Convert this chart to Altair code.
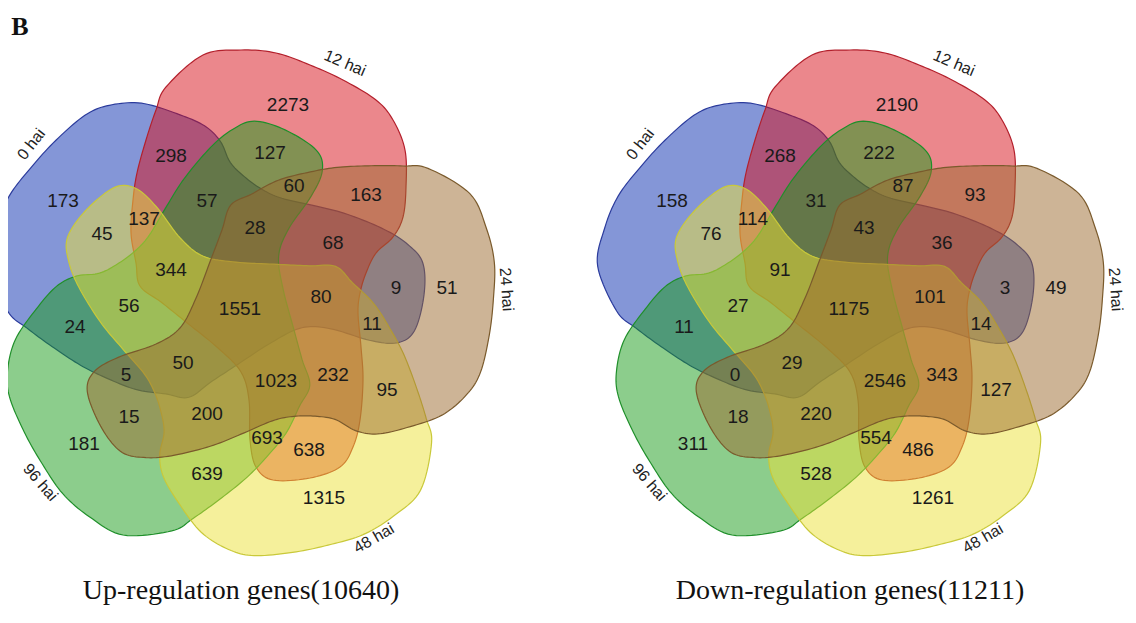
import numpy as np
import pandas as pd
import altair as alt

# ------------------------------------------------------------------ data
SET_NAMES = ["0 hai", "12 hai", "24 hai", "48 hai", "96 hai"]

# membership of each Venn region (indices into SET_NAMES)
REGION_KEYS = ["0", "1", "2", "3", "4",
               "0,1", "1,2", "2,3", "3,4", "0,4",
               "0,2", "1,3", "2,4", "0,3", "1,4",
               "0,1,2", "1,2,3", "2,3,4", "0,3,4", "0,1,4",
               "0,1,3", "1,2,4", "0,2,3", "1,3,4", "0,2,4",
               "1,2,3,4", "0,2,3,4", "0,1,3,4", "0,1,2,4", "0,1,2,3",
               "0,1,2,3,4"]

UP_COUNTS = [173, 2273, 51, 1315, 181,
             298, 163, 95, 639, 24,
             9, 638, 15, 45, 127,
             68, 232, 200, 56, 57,
             137, 60, 11, 693, 5,
             1023, 50, 344, 28, 80,
             1551]

DOWN_COUNTS = [158, 2190, 49, 1261, 311,
               268, 93, 127, 528, 11,
               3, 486, 18, 76, 222,
               36, 343, 220, 27, 31,
               114, 87, 14, 554, 0,
               2546, 29, 91, 43, 101,
               1175]

PANEL_TITLES = ["Up-regulation genes(10640)", "Down-regulation genes(11211)"]
PANEL_LETTER = "B"

# ------------------------------------------------------------------ style / layout
VIEW_W, VIEW_H = 1120, 607
PAGE_OFF = 8
CENTERS = [(241.0, 308.0), (850.0, 308.0)]
FILLS = ["#0a2db0", "#d70f19", "#9b692d", "#ebe137", "#199b19"]
STROKES = ["#2b3b9c", "#b3202c", "#7a5a2c", "#c9c93a", "#1f8f2a"]
DRAW_ORDER = [0, 1, 4, 3, 2]
FILL_OPACITY = 0.5
NUM_FONT, NUM_SIZE = "Liberation Sans", 19
LAB_SIZE = 16
TITLE_FONT, TITLE_SIZE, TITLE_DY = "Liberation Serif", 28, 283
LETTER_POS, LETTER_SIZE = (20, 27), 26
HEAD_OF_SET1 = 81.0      # direction of the "12 hai" lobe (deg)
STEP = 72.0              # rotational symmetry of the 5-set diagram
LABEL_R = 266.0
LABEL_SHIFT = [-11.0, -14.0, -5.0, 3.0, -4.0]

# template outline of one set (frame of set 1, y up, px from diagram centre)
BASE_OUTLINE = [(-75, 221), (-38, 253), (0, 258), (35, 255), (69, 243), (102, 228),
                (135, 208), (152, 188), (164, 158), (165, 121), (162, 91), (152, 71),
                (135, 55), (125, 35), (119, 15), (117, -5), (120, -39), (122, -72),
                (119, -112), (112, -139), (99, -159), (69, -170), (32, -172),
                (15, -159), (9, -132), (8, -92), (0, -64), (-23, -40), (-55, -14),
                (-80, 6), (-101, 22), (-105, 45), (-110, 75), (-108, 108),
                (-104, 135), (-95, 168), (-85, 198)]


def catmull_rom_closed(pts, n=10):
    P = np.asarray(pts, float)
    m = len(P)
    out = []
    for i in range(m):
        p0, p1, p2, p3 = P[(i - 1) % m], P[i], P[(i + 1) % m], P[(i + 2) % m]
        for t in np.linspace(0, 1, n, endpoint=False):
            out.append(0.5 * (2 * p1 + (-p0 + p2) * t
                              + (2 * p0 - 5 * p1 + 4 * p2 - p3) * t * t
                              + (-p0 + 3 * p1 - 3 * p2 + p3) * t ** 3))
    return np.array(out)


def rot(pts, deg):
    a = np.radians(deg)
    c, s = np.cos(a), np.sin(a)
    return np.column_stack([pts[:, 0] * c - pts[:, 1] * s, pts[:, 0] * s + pts[:, 1] * c])


def inside(px, py, poly):
    x0, y0 = poly[:, 0], poly[:, 1]
    x1, y1 = np.roll(x0, -1), np.roll(y0, -1)
    cond = (y0 > py) != (y1 > py)
    xint = x0 + (py - y0) * (x1 - x0) / np.where(y1 - y0 == 0, 1e-9, y1 - y0)
    return ((cond & (px < xint)).sum(axis=1) % 2) == 1


def boundary_dist(px, py, poly):
    x0, y0 = poly[:, 0], poly[:, 1]
    dx, dy = np.roll(x0, -1) - x0, np.roll(y0, -1) - y0
    t = np.clip(((px - x0) * dx + (py - y0) * dy) / (dx * dx + dy * dy + 1e-12), 0, 1)
    return np.sqrt(((px - (x0 + t * dx)) ** 2 + (py - (y0 + t * dy)) ** 2).min(axis=1))


base = catmull_rom_closed(BASE_OUTLINE, 10)
shapes_uv = [rot(base, -STEP * (i - 1)) for i in range(5)]

# label point of every region: the point nearest the region's centroid that
# still keeps a comfortable clearance from every outline
g = np.arange(-262, 263, 3.0)
GU, GV = np.meshgrid(g, g)
pu, pv = GU.ravel()[:, None], GV.ravel()[:, None]
ins = np.array([inside(pu, pv, s) for s in shapes_uv])
dmin = np.array([boundary_dist(pu, pv, s) for s in shapes_uv]).min(axis=0)
codes = (ins * (1 << np.arange(5))[:, None]).sum(axis=0)
label_uv = {}
for key in REGION_KEYS:
    code = sum(1 << int(k) for k in key.split(","))
    sel = np.where(codes == code)[0]
    cu, cv = pu[sel, 0].mean(), pv[sel, 0].mean()
    thr = min(0.75 * dmin[sel].max(), 16.0)
    cand = sel[dmin[sel] >= thr]
    j = cand[np.argmin((pu[cand, 0] - cu) ** 2 + (pv[cand, 0] - cv) ** 2)]
    label_uv[key] = (pu[j, 0], pv[j, 0])

# ------------------------------------------------------------------ build data tables
features, nums, labs, titles = [], [], [], []
for d, (cx, cy) in enumerate(CENTERS):
    for i in DRAW_ORDER:
        s = shapes_uv[i]
        ring = [[float(cx + u - PAGE_OFF), float(cy - v - PAGE_OFF)] for u, v in s]
        ring.append(ring[0])
        features.append({"type": "Feature",
                         "geometry": {"type": "Polygon", "coordinates": [ring]},
                         "properties": {"set": SET_NAMES[i], "fill": FILLS[i], "stroke": STROKES[i]}})
    counts = UP_COUNTS if d == 0 else DOWN_COUNTS
    for key, n in zip(REGION_KEYS, counts):
        u, v = label_uv[key]
        nums.append({"lon": cx + u - PAGE_OFF, "lat": cy - v - PAGE_OFF, "text": str(n)})
    for i, name in enumerate(SET_NAMES):
        th = HEAD_OF_SET1 - STEP * (i - 1) + LABEL_SHIFT[i]
        a = np.radians(th)
        r = 90.0 - th
        r = (r + 180.0) % 360.0 - 180.0
        if r > 90:
            r -= 180
        if r < -90:
            r += 180
        labs.append({"lon": cx + LABEL_R * np.cos(a) - PAGE_OFF,
                     "lat": cy - LABEL_R * np.sin(a) - PAGE_OFF,
                     "text": name, "ang": r % 360.0})
    titles.append({"lon": cx - PAGE_OFF, "lat": cy + TITLE_DY - PAGE_OFF, "text": PANEL_TITLES[d]})

letter = [{"lon": LETTER_POS[0] - PAGE_OFF, "lat": LETTER_POS[1] - PAGE_OFF, "text": PANEL_LETTER}]

shape_layer = alt.Chart(alt.Data(values=features)).mark_geoshape(
    fillOpacity=FILL_OPACITY, strokeWidth=1.2
).encode(
    fill=alt.Fill("properties.fill:N", scale=None),
    stroke=alt.Stroke("properties.stroke:N", scale=None),
)

num_layer = alt.Chart(pd.DataFrame(nums)).mark_text(
    font=NUM_FONT, fontSize=NUM_SIZE, color="#1a1a1a", baseline="middle", align="center"
).encode(longitude="lon:Q", latitude="lat:Q", text="text:N")

lab_layer = alt.Chart(pd.DataFrame(labs)).mark_text(
    font=NUM_FONT, fontSize=LAB_SIZE, color="#222222", baseline="middle", align="center"
).encode(longitude="lon:Q", latitude="lat:Q", text="text:N",
         angle=alt.Angle("ang:Q", scale=None))

title_layer = alt.Chart(pd.DataFrame(titles)).mark_text(
    font=TITLE_FONT, fontSize=TITLE_SIZE, color="#111111", baseline="middle", align="center"
).encode(longitude="lon:Q", latitude="lat:Q", text="text:N")

letter_layer = alt.Chart(pd.DataFrame(letter)).mark_text(
    font=TITLE_FONT, fontSize=LETTER_SIZE, fontWeight="bold", color="#111111",
    baseline="middle", align="center"
).encode(longitude="lon:Q", latitude="lat:Q", text="text:N")

chart = alt.layer(shape_layer, num_layer, lab_layer, title_layer, letter_layer).project(
    type="identity", scale=1, translate=[0, 0]
).properties(
    width=VIEW_W, height=VIEW_H, padding=0, background="white"
).configure_view(stroke=None)

chart.save("out.html", embed_options={"renderer": "svg", "actions": False})
